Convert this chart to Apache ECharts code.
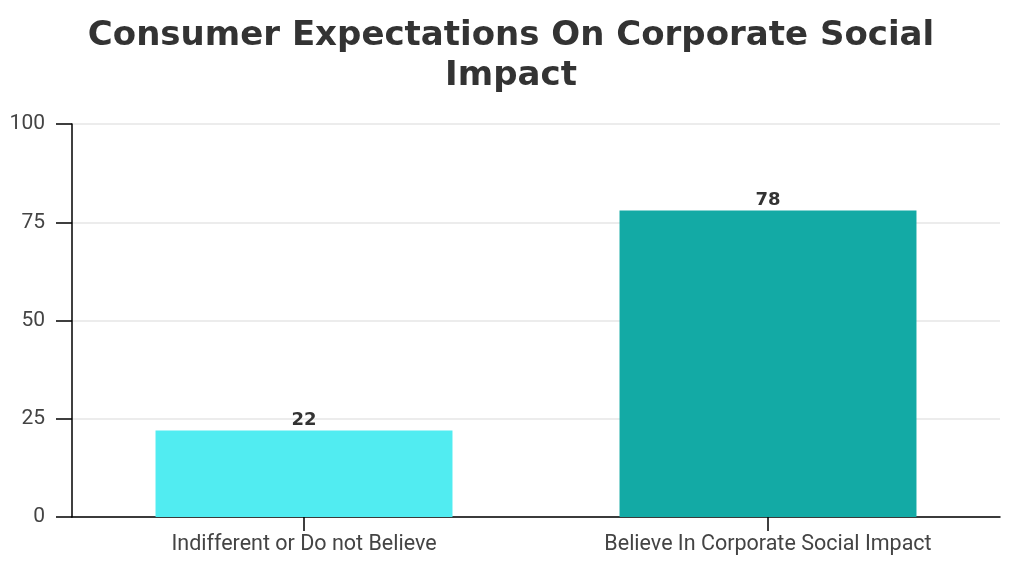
<!DOCTYPE html>
<html>
<head>
<meta charset="utf-8">
<script src="https://cdn.jsdelivr.net/npm/echarts@6/dist/echarts.min.js"></script>
<style>html,body{margin:0;padding:0;background:#fff;}#c{width:1024px;height:582px;}</style>
</head>
<body>
<div id="c"></div>
<script>
const titleText = 'Consumer Expectations On Corporate Social\nImpact';
const categories = ['Indifferent or Do not Believe', 'Believe In Corporate Social Impact'];
const values = [22, 78];
const barColors = ['#51ECF1', '#13AAA5'];
const yTicks = [0, 25, 50, 75, 100];

const chart = echarts.init(document.getElementById('c'), null, {renderer: 'canvas'});
chart.setOption({
  animation: false,
  backgroundColor: '#ffffff',
  title: {
    text: titleText,
    left: 506,
    top: 11,
    textAlign: 'center',
    textStyle: {
      fontFamily: 'DejaVu Sans',
      fontWeight: 'bold',
      fontSize: 34,
      lineHeight: 40,
      color: '#333333'
    }
  },
  grid: {left: 72, right: 24, top: 124, bottom: 65, containLabel: false},
  xAxis: {
    type: 'category',
    data: categories,
    axisLine: {lineStyle: {color: '#000', width: 1.5}},
    axisTick: {show: true, alignWithLabel: true, length: 14, lineStyle: {color: '#000', width: 1.5}},
    axisLabel: {fontFamily: 'Roboto', fontSize: 21.5, color: '#444', margin: 17}
  },
  yAxis: {
    type: 'value',
    min: 0, max: 100, interval: 25,
    axisLine: {show: true, lineStyle: {color: '#000', width: 1.5}},
    axisTick: {show: true, length: 16, lineStyle: {color: '#000', width: 1.5}},
    axisLabel: {fontFamily: 'Roboto', fontSize: 21, color: '#444', margin: 27,
      formatter: v => yTicks.includes(v) ? String(v) : ''},
    splitLine: {lineStyle: {color: '#e6e6e6', width: 1.5}}
  },
  series: [{
    type: 'bar',
    barWidth: '64%',
    data: values.map((v, i) => ({value: v, itemStyle: {color: barColors[i]}})),
    label: {
      show: true,
      position: 'top',
      distance: 1,
      fontFamily: 'DejaVu Sans',
      fontWeight: 'bold',
      fontSize: 18,
      color: '#333'
    }
  }]
});
</script>
</body>
</html>
